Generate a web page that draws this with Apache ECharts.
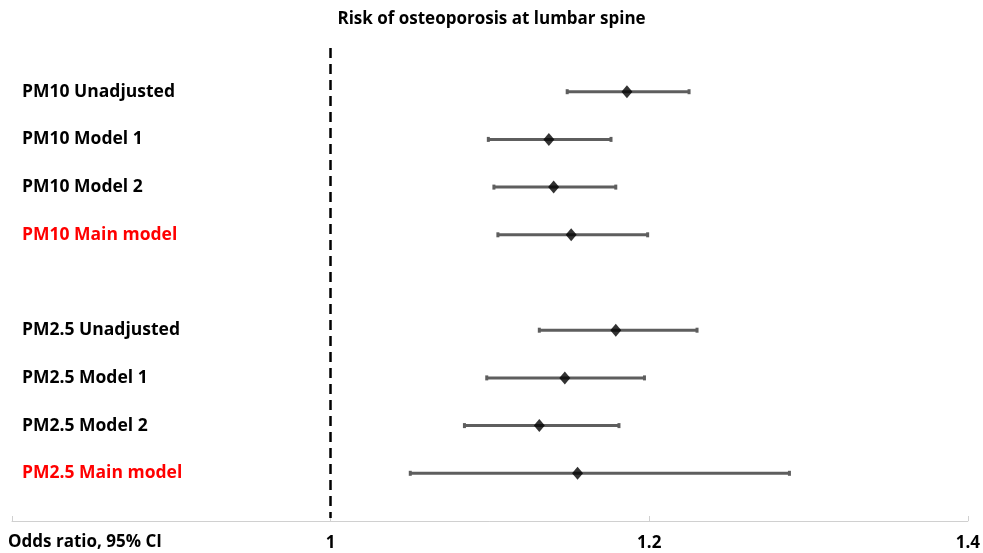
<!DOCTYPE html>
<html>
<head>
<meta charset="utf-8">
<script src="https://cdn.jsdelivr.net/npm/echarts@6/dist/echarts.min.js"></script>
<style>html,body{margin:0;padding:0;background:#fff}#c{width:983px;height:553px}</style>
</head>
<body>
<div id="c"></div>
<script>
// Rows (blank entries are spacer slots)
var rowLabels = ['', 'PM10 Unadjusted', 'PM10 Model 1', 'PM10 Model 2', 'PM10 Main model', '',
                 'PM2.5 Unadjusted', 'PM2.5 Model 1', 'PM2.5 Model 2', 'PM2.5 Main model', ''];
var mainRows = ['PM10 Main model', 'PM2.5 Main model'];
var estLabels = ['PM10 Unadjusted', 'PM10 Model 1', 'PM10 Model 2', 'PM10 Main model',
                 'PM2.5 Unadjusted', 'PM2.5 Model 1', 'PM2.5 Model 2', 'PM2.5 Main model'];
var oddsRatio = [1.186, 1.137, 1.140, 1.151, 1.179, 1.147, 1.131, 1.155];
var ciLow     = [1.1485, 1.099, 1.1025, 1.105, 1.131, 1.098, 1.084, 1.050];
var ciHigh    = [1.225, 1.176, 1.179, 1.199, 1.230, 1.197, 1.181, 1.288];
var xTicks = [0.8, 1, 1.2, 1.4];

var chart = echarts.init(document.getElementById('c'));
var FONT = '"Open Sans"';

var catData = rowLabels.map(function (l) {
  return { value: l, textStyle: { color: mainRows.indexOf(l) >= 0 ? '#ff0000' : '#000000' } };
});
var barData = estLabels.map(function (l, i) { return [ciLow[i], ciHigh[i], rowLabels.indexOf(l)]; });
var ptData = estLabels.map(function (l, i) { return [oddsRatio[i], rowLabels.indexOf(l)]; });

chart.setOption({
  animation: false,
  title: {
    text: 'Risk of osteoporosis at lumbar spine',
    left: 'center', top: 6,
    textStyle: { fontFamily: FONT, fontSize: 17, fontWeight: 'bold', color: '#000' }
  },
  graphic: [{
    type: 'text', left: 8, top: 534,
    style: { text: 'Odds ratio, 95% CI', font: 'bold 17px ' + FONT, fill: '#000' }
  }],
  grid: { left: 12, right: 12, top: 44, bottom: 32 },
  xAxis: {
    type: 'value', min: 0.8, max: 1.4, interval: 0.2,
    splitLine: { show: false },
    axisLine: { show: true, lineStyle: { color: '#d0d0d0', width: 1 } },
    axisTick: { show: true, inside: true, length: 5, lineStyle: { color: '#d0d0d0' } },
    axisLabel: {
      fontFamily: FONT, fontSize: 17, fontWeight: 'bold', color: '#000', margin: 14,
      formatter: function (v) { return Math.abs(v - 0.8) < 1e-9 ? '' : String(Math.round(v * 10) / 10); }
    }
  },
  yAxis: {
    type: 'category', data: catData, inverse: true, boundaryGap: false,
    axisLine: { show: false }, axisTick: { show: false }, splitLine: { show: false },
    axisLabel: {
      inside: true, margin: 10, align: 'left', interval: 0,
      fontFamily: FONT, fontSize: 17.5, fontWeight: 'bold'
    }
  },
  series: [
    {
      type: 'custom',
      data: barData,
      dimensions: ['low', 'high', 'row'],
      encode: { x: ['low', 'high'], y: 'row' },
      renderItem: function (params, api) {
        var p1 = api.coord([api.value(0), api.value(2)]);
        var p2 = api.coord([api.value(1), api.value(2)]);
        var st = { fill: '#5e5e5e' };
        return {
          type: 'group',
          children: [
            { type: 'rect', shape: { x: p1[0], y: p1[1] - 1.5, width: p2[0] - p1[0], height: 3 }, style: st },
            { type: 'rect', shape: { x: p1[0] - 1.5, y: p1[1] - 2.5, width: 3, height: 5 }, style: st },
            { type: 'rect', shape: { x: p2[0] - 1.5, y: p2[1] - 2.5, width: 3, height: 5 }, style: st }
          ]
        };
      }
    },
    {
      type: 'scatter',
      data: ptData,
      symbol: 'diamond', symbolSize: [11, 13],
      itemStyle: { color: '#000' },
      z: 5,
      markLine: {
        silent: true, symbol: 'none', label: { show: false },
        lineStyle: { color: '#000', type: [10, 6], width: 2.5 },
        data: [[{ xAxis: 1, y: 48 }, { xAxis: 1, y: 518 }]]
      }
    }
  ]
});
</script>
</body>
</html>
